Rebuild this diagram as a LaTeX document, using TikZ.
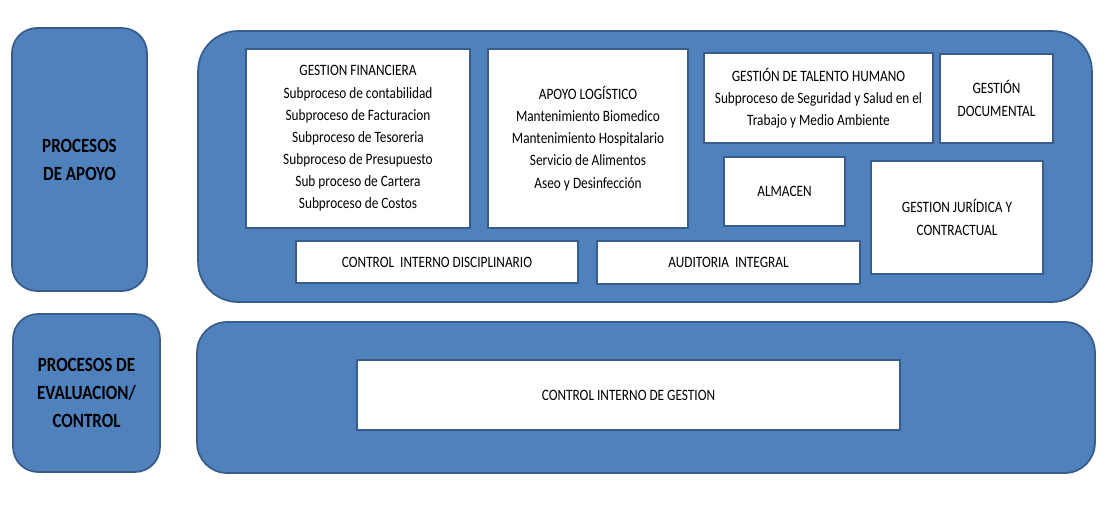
\documentclass[tikz,border=0pt]{standalone}
\usepackage{fontspec}
\setmainfont{Carlito}[FakeStretch=0.84]
\usetikzlibrary{shadows}
\definecolor{azul}{HTML}{4F81BD}
\definecolor{azuloscuro}{HTML}{385D8A}
\tikzstyle{grupo}=[draw=azuloscuro,fill=azul,line width=.035cm,inner sep=0pt]
\tikzstyle{etiqueta}=[align=center,font=\bfseries\fontsize{11.5}{15.9}\selectfont]
\tikzstyle{caja}=[draw=azuloscuro,fill=white,line width=.035cm,inner sep=0pt,
align=center,font=\fontsize{9}{12.6}\selectfont,
drop shadow={shadow xshift=.03cm,shadow yshift=-.03cm,opacity=.35}]

\begin{document}
\begin{tikzpicture}[x=.02cm,y=-.02cm]
	\useasboundingbox (0,0) rectangle (1110,517);

	%grupos de la izquierda
	\node[grupo,etiqueta,rounded corners=.5cm,minimum width=2.7cm,minimum height=5.26cm]
		(procapoyo) at (79.5,159.5) {PROCESOS\\DE APOYO};
	\node[grupo,etiqueta,rounded corners=.5cm,minimum width=2.94cm,minimum height=3.16cm]
		(proceval) at (86.5,393) {PROCESOS DE\\EVALUACION/\\CONTROL};

	%fondos
	\node[grupo,rounded corners=.8cm,minimum width=17.88cm,minimum height=5.42cm]
		(apoyo) at (645,166.5) {};
	\node[grupo,rounded corners=.6cm,minimum width=17.96cm,minimum height=3.02cm]
		(eval) at (646,397.5) {};

	%procesos de apoyo
	\node[caja,minimum width=4.48cm,minimum height=3.58cm] (finan) at (358,138.5)
		{GESTION FINANCIERA\\Subproceso de contabilidad\\Subproceso de Facturacion\\
		Subproceso de Tesoreria\\Subproceso de Presupuesto\\Sub proceso de Cartera\\
		Subproceso de Costos};
	\node[caja,minimum width=4cm,minimum height=3.58cm] (logis) at (588,138.5)
		{APOYO LOGÍSTICO\\Mantenimiento Biomedico\\Mantenimiento Hospitalario\\
		Servicio de Alimentos\\Aseo y Desinfección};
	\node[caja,minimum width=4.58cm,minimum height=1.8cm] (talento) at (818.5,98)
		{GESTIÓN DE TALENTO HUMANO\\Subproceso de Seguridad y Salud en el\\
		Trabajo y Medio Ambiente};
	\node[caja,minimum width=2.26cm,minimum height=1.78cm] (docum) at (996.5,98.5)
		{GESTIÓN\\DOCUMENTAL};
	\node[caja,minimum width=2.42cm,minimum height=1.38cm] (almacen) at (784.5,191.5)
		{ALMACEN};
	\node[caja,minimum width=3.44cm,minimum height=2.26cm] (juridica) at (957,217.5)
		{GESTION JURÍDICA Y\\CONTRACTUAL};
	\node[caja,minimum width=5.64cm,minimum height=.84cm] (disciplina) at (437,262)
		{CONTROL\ \ INTERNO DISCIPLINARIO};
	\node[caja,minimum width=5.26cm,minimum height=.86cm] (auditoria) at (728.5,262.5)
		{AUDITORIA\ \ INTEGRAL};

	%evaluacion y control
	\node[caja,minimum width=10.86cm,minimum height=1.4cm] (gestion) at (628.5,395)
		{CONTROL INTERNO DE GESTION};
\end{tikzpicture}
\end{document}
